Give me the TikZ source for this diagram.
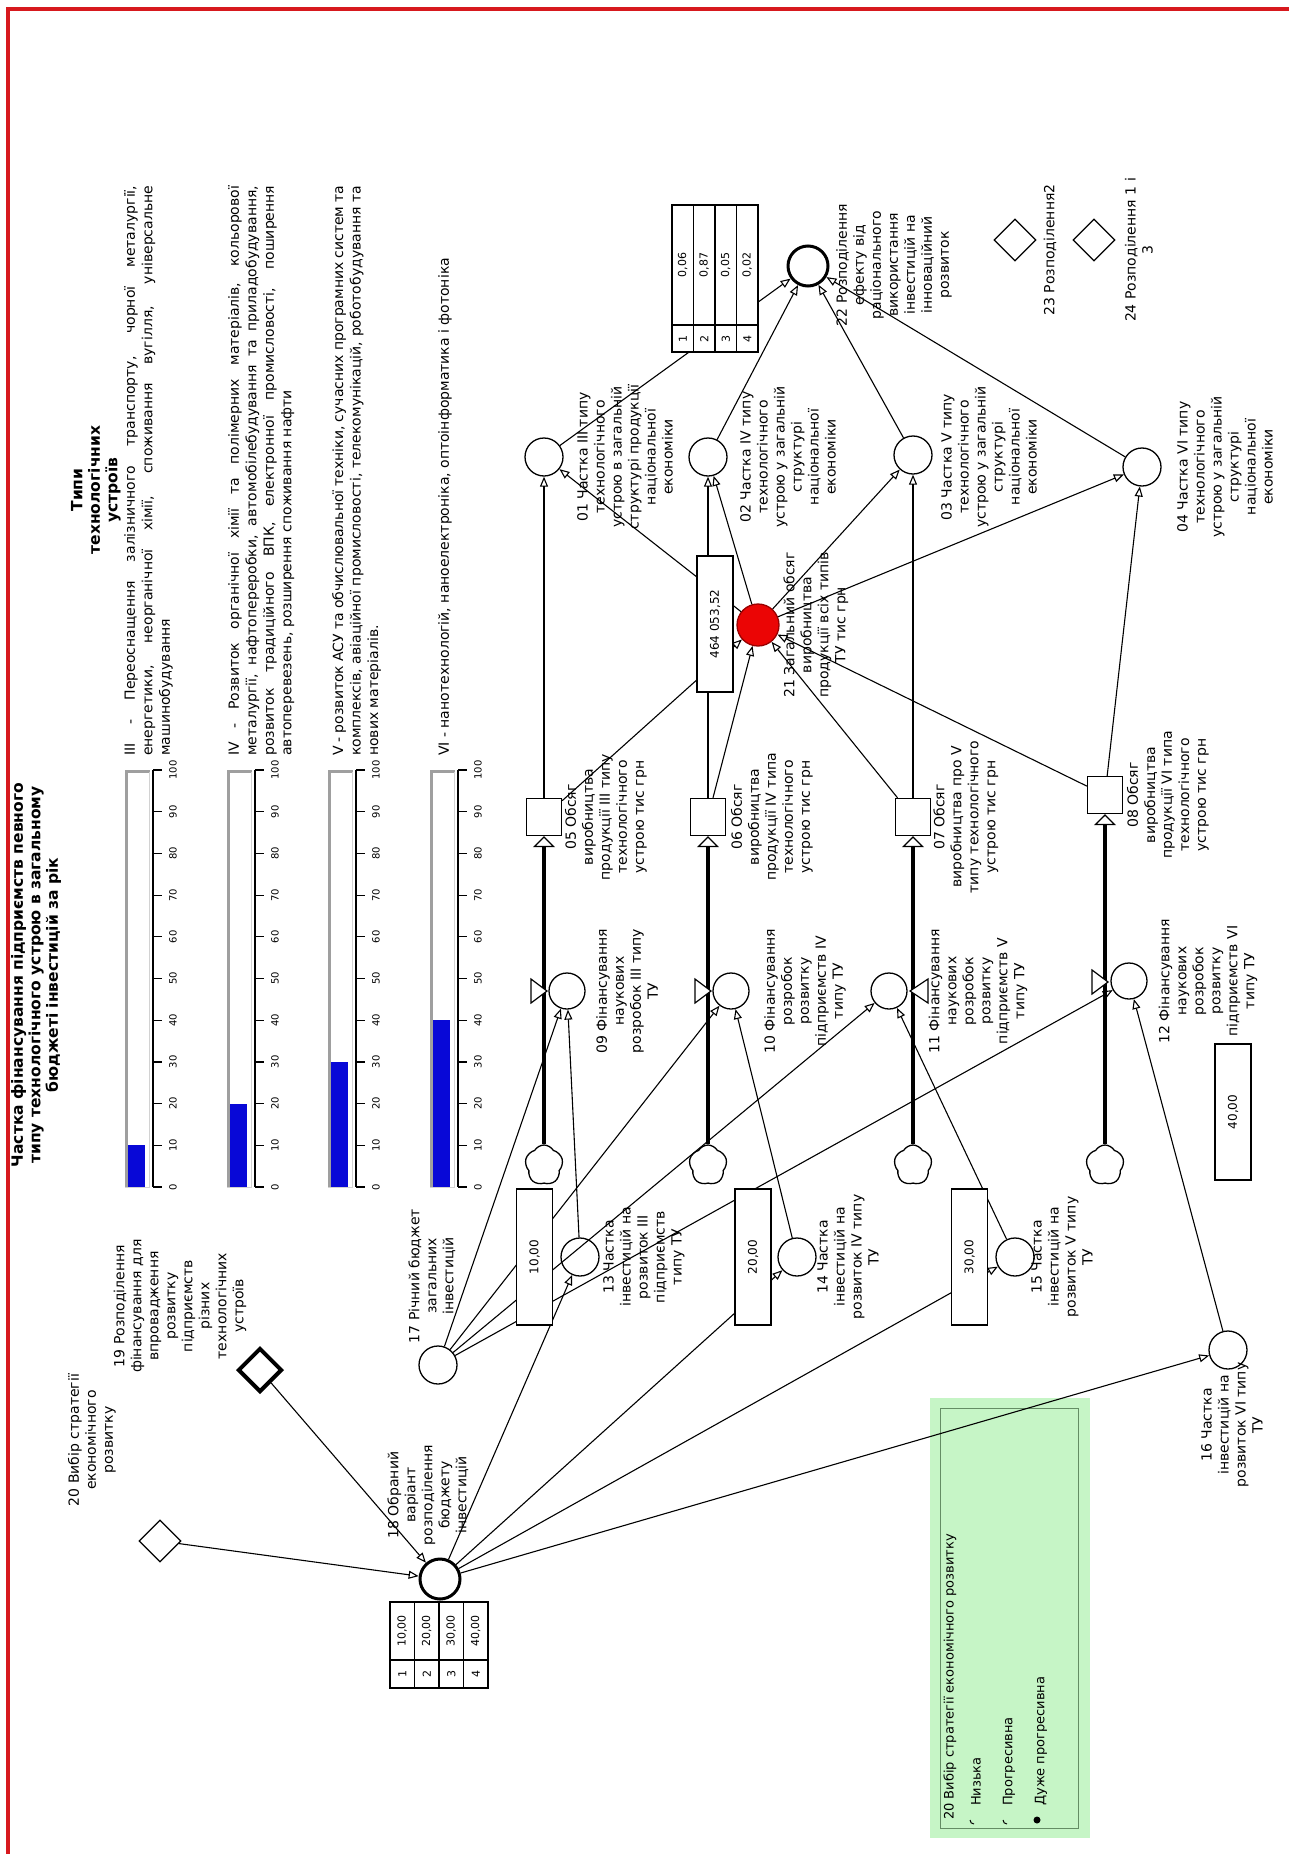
\documentclass[tikz,border=0pt]{standalone}
\usepackage{fontspec}
\setmainfont{DejaVu Sans}
\usetikzlibrary{arrows.meta,shapes.geometric,shapes.symbols}
\definecolor{bord}{RGB}{215,25,30}
\definecolor{gfill}{RGB}{198,245,198}
\definecolor{gline}{RGB}{100,140,100}
\definecolor{barblue}{RGB}{8,8,215}
\definecolor{redn}{RGB}{235,5,5}
\newcommand\lblfont{\fontsize{14}{17}\selectfont}
\newcommand\blkfont{\fontsize{14}{17.5}\selectfont}
\newcommand\ttlfont{\bfseries\fontsize{15.5}{17.5}\selectfont}
\newcommand\tickfont{\fontsize{10}{10}\selectfont}
\newcommand\cellfont{\fontsize{11}{12}\selectfont}
\newcommand\jline[1]{\makebox[570pt][s]{#1}}
\begin{document}
\begin{tikzpicture}[x=1pt,y=-1pt,
  lbl/.style={rotate=90, font=\lblfont, align=center, inner sep=0pt},
  blk/.style={rotate=90, font=\blkfont, align=left, inner sep=0pt, anchor=north west},
  conn/.style={line width=1.1pt, -{Triangle[open, length=10pt, width=8pt, line width=1.1pt]}},
  flowl/.style={line width=4pt, -{Triangle[open, length=11pt, width=22pt, line width=1.3pt]}},
  auxn/.style={circle, draw, line width=1.3pt, minimum size=38pt, inner sep=0pt, fill=white},
  boldn/.style={auxn, minimum size=40pt, line width=3pt},
  lvl/.style={rectangle, draw, line width=1.3pt, minimum width=35pt, minimum height=37pt, inner sep=0pt, fill=white},
  dia/.style={diamond, draw, line width=1.3pt, minimum width=42pt, minimum height=42pt, inner sep=0pt, fill=white},
  valbox/.style={rectangle, draw, rotate=90, line width=1.3pt, fill=white, minimum width=136pt, minimum height=36pt, inner sep=0pt, font=\fontsize{12}{12}\selectfont},
  cloudn/.style={cloud, draw, cloud puffs=5, cloud puff arc=120, aspect=0.9, minimum width=38pt, minimum height=40pt, inner sep=0pt, line width=1.3pt, fill=white},
  cell/.style={rotate=90, font=\cellfont, inner sep=0pt},
  tick/.style={rotate=90, font=\tickfont, inner sep=0pt},
  valve/.style={line width=1.2pt, fill=white},
  opt/.style={rotate=90, font=\fontsize{13}{14}\selectfont, anchor=west, inner sep=0pt}
]
\useasboundingbox (0,0) rectangle (1289,1854);
\fill[white] (0,0) rectangle (1289,1854);
\draw[bord, line width=4pt] (8,1854) -- (8,9) -- (1289,9);

% ---------- titles ----------
\node[rotate=90, font=\ttlfont, align=center, inner sep=0pt] (title) at (36,975)
  {Частка фінансування підприємств певного\\типу технологічного устрою в загальному\\бюджеті інвестицій за рік};
\node[rotate=90, font=\ttlfont, align=center, inner sep=0pt] (types) at (96,490)
  {Типи\\технологічних\\устроїв};

% ---------- text blocks (justified) ----------
\node[blk] (t3) at (124,756) {\jline{III - Переоснащення залізничного транспорту, чорної металургії,}\\\jline{енергетики, неорганічної хімії, споживання вугілля, універсальне}\\машинобудування};
\node[blk] (t4) at (228,756) {\jline{IV - Розвиток органічної хімії та полімерних матеріалів, кольорової}\\\jline{металургії, нафтопереробки, автомобілебудування та приладобудування,}\\\jline{розвиток традиційного ВПК, електронної промисловості, поширення}\\автоперевезень, розширення споживання нафти};
\node[blk] (t5) at (332,756) {\jline{V - розвиток АСУ та обчислювальної техніки, сучасних програмних систем та}\\\jline{комплексів, авіаційної промисловості, телекомунікацій, роботобудування та}\\нових матеріалів.};
\node[blk] (t6) at (438,756) {VI - нанотехнологій, наноелектроніка, оптоінформатика і фотоніка};

% ---------- gauges ----------
\foreach \L/\v in {125/10, 227/20, 328/30, 430/40} {
  \pgfmathsetmacro\R{\L+25}
  \fill[white] (\L,770) rectangle (\R,1187);
  \fill[barblue] (\L+3,{1187-4.17*\v}) rectangle (\R-5,1187);
  \draw[gray!75, line width=3pt] (\L+1.5,1187) -- (\L+1.5,771.5) -- (\R,771.5);
  \draw[gray!35, line width=1pt] (\R-0.5,771.5) -- (\R-0.5,1187) -- (\L,1187);
  \draw[line width=1.4pt] (\R+3,770) -- (\R+3,1187);
  \foreach \k in {0,...,10} {
    \pgfmathtruncatemacro\tv{\k*10}
    \draw[line width=1.2pt] (\R+3,{1187-41.7*\k}) -- (\R+12,{1187-41.7*\k});
    \node[tick] at (\R+23,{1187-41.7*\k}) {\tv};
  }
}

% ---------- strategy panel (under connectors) ----------
\fill[gfill] (930,1398) rectangle (1090,1838);
\draw[gline, line width=1pt] (940,1408) rectangle (1078,1828);
\node[opt] (pt) at (950,1820) {20 Вибір стратегії економічного розвитку};
\draw[line width=1pt] (970,1820) arc (180:90:4);
\node[opt] (p1) at (976,1806) {Низька};
\draw[line width=1pt] (1003,1820) arc (180:90:4);
\node[opt] (p2) at (1009,1806) {Прогресивна};
\fill (1037,1820) circle (3.5);
\node[opt] (p3) at (1041,1806) {Дуже прогресивна};

% ---------- main nodes ----------
\node[auxn] (c01) at (544,457) {};
\node[auxn] (c02) at (708,457) {};
\node[auxn] (c03) at (913,455) {};
\node[auxn] (c04) at (1142,467) {};
\node[auxn, fill=redn, draw=red!60!black, minimum size=42pt] (c21) at (758,625) {};
\node[boldn] (c22) at (808,266) {};
\node[dia] (d23) at (1015,240) {};
\node[dia] (d24) at (1094,240) {};

\node[lvl] (s05) at (544,817) {};
\node[lvl] (s06) at (708,817) {};
\node[lvl] (s07) at (913,817) {};
\node[lvl] (s08) at (1105,795) {};

\node[cloudn] (k1) at (544,1165) {};
\node[cloudn] (k2) at (708,1165) {};
\node[cloudn] (k3) at (913,1165) {};
\node[cloudn] (k4) at (1105,1165) {};

\node[auxn, minimum size=36pt] (c09) at (567,991) {};
\node[auxn, minimum size=36pt] (c10) at (731,991) {};
\node[auxn, minimum size=36pt] (c11) at (889,991) {};
\node[auxn, minimum size=36pt] (c12) at (1129,981) {};

\node[auxn] (c13) at (580,1257) {};
\node[auxn] (c14) at (797,1257) {};
\node[auxn] (c15) at (1015,1257) {};
\node[auxn] (c16) at (1228,1350) {};
\node[auxn] (c17) at (438,1365) {};
\node[boldn] (c18) at (440,1579) {};
\node[dia, line width=4pt, minimum width=44pt, minimum height=44pt] (d19) at (260,1370) {};
\node[dia] (d20) at (160,1541) {};

% ---------- flows ----------
\draw[flowl] (k1) -- (s05);
\draw[flowl] (k2) -- (s06);
\draw[flowl] (k3) -- (s07);
\draw[flowl] (k4) -- (s08);

% ---------- connectors ----------
\draw[conn] (s05) -- (c01);
\draw[conn] (s06) -- (c02);
\draw[conn] (s07) -- (c03);
\draw[conn] (s08) -- (c04);
\draw[conn] (c21) -- (c01);
\draw[conn] (c21) -- (c02);
\draw[conn] (c21) -- (c03);
\draw[conn] (c21) -- (c04);
\draw[conn] (s05) -- (c21);
\draw[conn] (s06) -- (c21);
\draw[conn] (s07) -- (c21);
\draw[conn] (s08) -- (c21);
\draw[conn] (c01) -- (c22);
\draw[conn] (c02) -- (c22);
\draw[conn] (c03) -- (c22);
\draw[conn] (c04) -- (c22);
\draw[conn] (c17) -- (c09);
\draw[conn] (c17) -- (c10);
\draw[conn] (c17) -- (c11);
\draw[conn] (c17) -- (c12);
\draw[conn] (c13) -- (c09);
\draw[conn] (c14) -- (c10);
\draw[conn] (c15) -- (c11);
\draw[conn] (c16) -- (c12);
\draw[conn] (c18) -- (c13);
\draw[conn] (c18) -- (c14);
\draw[conn] (c18) -- (c15);
\draw[conn] (c18) -- (c16);
\draw[conn] (d19) -- (c18);
\draw[conn] (d20) -- (c18);

% ---------- valves ----------
\draw[valve] (531,979) -- (531,1003) -- (547,991) -- cycle;
\draw[valve] (695,979) -- (695,1003) -- (711,991) -- cycle;
\draw[valve] (928,979) -- (928,1003) -- (910,991) -- cycle;
\draw[valve] (1092,970) -- (1092,994) -- (1108,982) -- cycle;

% ---------- value boxes ----------
\node[valbox] (box464) at (715,624) {464 053,52};
\node[valbox] (b10) at (534.5,1257) {10,00};
\node[valbox] (b20) at (753,1257) {20,00};
\node[valbox] (b30) at (969.5,1257) {30,00};
\node[valbox] (b40) at (1233,1112) {40,00};

% ---------- tables ----------
\fill[white] (672,205) rectangle (758,352);
\draw[line width=1.2pt] (672,205) rectangle (758,352);
\draw[line width=1.2pt] (672,325) -- (758,325);
\foreach \i/\val in {1/{0,06},2/{0,87},3/{0,05},4/{0,02}} {
  \ifnum\i<4 \draw[line width=1.2pt] (672+21.5*\i,205) -- (672+21.5*\i,352); \fi
  \node[cell] at (661.25+21.5*\i,265) {\val};
  \node[cell] at (661.25+21.5*\i,338.5) {\i};
}
\fill[white] (390,1602) rectangle (488,1688);
\draw[line width=1.2pt] (390,1602) rectangle (488,1688);
\draw[line width=1.2pt] (390,1660) -- (488,1660);
\foreach \i/\val in {1/{10,00},2/{20,00},3/{30,00},4/{40,00}} {
  \ifnum\i<4 \draw[line width=1.2pt] (390+24.5*\i,1602) -- (390+24.5*\i,1688); \fi
  \node[cell] at (377.75+24.5*\i,1631) {\val};
  \node[cell] at (377.75+24.5*\i,1674) {\i};
}

% ---------- labels ----------
\node[lbl] (l01) at (625,457) {01 Частка III типу\\технологічного\\устрою в загальній\\структурі продукції\\національної\\економіки};
\node[lbl] (l02) at (788,457) {02 Частка IV типу\\технологічного\\устрою у загальній\\структурі\\національної\\економіки};
\node[lbl] (l03) at (989,457) {03 Частка V типу\\технологічного\\устрою у загальній\\структурі\\національної\\економіки};
\node[lbl] (l04) at (1225,467) {04 Частка VI типу\\технологічного\\устрою у загальній\\структурі\\національної\\економіки};
\node[lbl] (l05) at (606,817) {05 Обсяг\\виробництва\\продукції III типу\\технологічного\\устрою тис грн};
\node[lbl] (l06) at (772,817) {06 Обсяг\\виробництва\\продукції IV типа\\технологічного\\устрою тис грн};
\node[lbl] (l07) at (966,817) {07 Обсяг\\виробництва про V\\типу технологічного\\устрою тис грн};
\node[lbl] (l08) at (1168,795) {08 Обсяг\\виробництва\\продукції VI типа\\технологічного\\устрою тис грн};
\node[lbl] (l09) at (627,991) {09 Фінансування\\наукових\\розробок III типу\\ТУ};
\node[lbl] (l10) at (805,991) {10 Фінансування\\розробок\\розвитку\\підприємств IV\\типу ТУ};
\node[lbl] (l11) at (978,991) {11 Фінансування\\наукових\\розробок\\розвитку\\підприємств V\\типу ТУ};
\node[lbl] (l12) at (1208,981) {12 Фінансування\\наукових\\розробок\\розвитку\\підприємств VI\\типу ТУ};
\node[lbl] (l13) at (644,1257) {13 Частка\\інвестицій на\\розвиток III\\підприємств\\типу ТУ};
\node[lbl] (l14) at (848,1257) {14 Частка\\інвестицій на\\розвиток IV типу\\ТУ};
\node[lbl] (l15) at (1062,1257) {15 Частка\\інвестицій на\\розвиток V типу\\ТУ};
\node[lbl] (l16) at (1232,1425) {16 Частка\\інвестицій на\\розвиток VI типу\\ТУ};
\node[lbl] (l17) at (432,1276) {17 Річний бюджет\\загальних\\інвестицій};
\node[lbl] (l18) at (428,1495) {18 Обраний\\варіант\\розподілення\\бюджету\\інвестицій};
\node[lbl] (l19) at (180,1306) {19 Розподілення\\фінансування для\\впровадження\\розвитку\\підприємств\\різних\\технологічних\\устроїв};
\node[lbl] (l20) at (92,1440) {20 Вибір стратегії\\економічного\\розвитку};
\node[lbl] (l21) at (816,625) {21 Загальний обсяг\\виробництва\\продукції всіх типів\\ТУ тис грн};
\node[lbl] (l22) at (894,265) {22 Розподілення\\ефекту від\\раціонального\\використання\\інвестицій на\\інноваційний\\розвиток};
\node[lbl] (l23) at (1050,250) {23 Розподілення2};
\node[lbl] (l24) at (1139,250) {24 Розподілення 1 і\\3};
\end{tikzpicture}
\end{document}
